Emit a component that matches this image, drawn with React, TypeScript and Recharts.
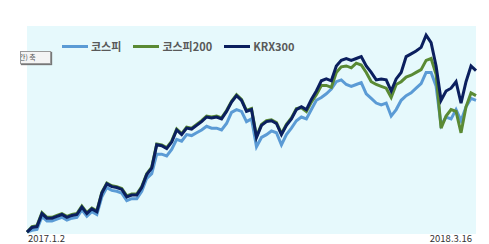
import { CartesianGrid, Legend, Line, LineChart, XAxis, YAxis } from 'recharts';

// relative level of each index (first day = 0)
const kospi = [
  0, 2, 3, 17, 12, 12, 14, 16, 13, 15, 16, 24, 17, 22, 19, 38, 48, 45, 44, 42, 34, 36, 36, 44, 58,
  63, 84, 84, 82, 89, 100, 98, 105, 104, 107, 110, 114, 112, 112, 110, 117, 129, 132, 130, 119, 122,
  92, 102, 105, 109, 107, 94, 105, 112, 120, 124, 122, 132, 142, 145, 149, 154, 162, 164, 159, 157,
  159, 161, 149, 144, 139, 137, 139, 125, 132, 142, 147, 150, 155, 160, 172, 172, 157, 115, 124, 122,
  132, 120, 135, 144, 142,
];
const kospi200 = [
  0, 6, 7, 21, 16, 16, 18, 20, 17, 19, 20, 28, 21, 26, 23, 43, 53, 50, 49, 47, 39, 41, 41, 49, 63,
  70, 95, 94, 91, 98, 111, 106, 113, 112, 116, 120, 125, 124, 125, 123, 131, 141, 148, 143, 131, 133,
  103, 116, 120, 121, 118, 106, 116, 123, 133, 134, 130, 140, 148, 158, 158, 156, 172, 178, 179, 177,
  182, 180, 172, 162, 159, 157, 155, 145, 159, 162, 167, 169, 172, 175, 185, 187, 170, 112, 125, 132,
  130, 107, 135, 150, 147,
];
const krx300 = [
  0, 5, 6, 20, 15, 15, 17, 19, 16, 18, 19, 27, 20, 25, 22, 42, 52, 49, 48, 46, 38, 40, 40, 48, 62,
  69, 94, 93, 90, 97, 110, 105, 112, 111, 115, 119, 124, 123, 124, 122, 130, 140, 147, 142, 130, 132,
  102, 115, 119, 120, 117, 105, 115, 122, 132, 135, 132, 143, 152, 163, 165, 163, 179, 185, 187, 185,
  187, 189, 179, 172, 164, 165, 164, 152, 165, 172, 189, 192, 195, 199, 212, 204, 179, 142, 152, 155,
  162, 139, 162, 179, 174,
];
const xLabels = ['2017.1.2', '2018.3.16'];

const seriesInfo = [
  { key: 'kospi', name: '코스피', color: '#5B9BD5' },
  { key: 'kospi200', name: '코스피200', color: '#5A8A34' },
  { key: 'krx300', name: 'KRX300', color: '#0B1F5E' },
];

const data = krx300.map((_, i) => ({
  i,
  kospi: kospi[i],
  kospi200: kospi200[i],
  krx300: krx300[i],
}));
const lastIndex = data.length - 1;

const fontFamily = '"Noto Sans CJK KR", "Noto Sans", sans-serif';

function DateTick(props: any) {
  const { x, y, payload } = props;
  const first = payload.value === 0;
  return (
    <text
      x={first ? x + 1 : x - 4}
      y={y}
      textAnchor={first ? 'start' : 'end'}
      fontSize={9.5}
      fill="#333"
      fontFamily={fontFamily}
    >
      {first ? xLabels[0] : xLabels[1]}
    </text>
  );
}

function LegendBox() {
  return (
    <div style={{ display: 'flex', alignItems: 'center', fontFamily, fontSize: 11, fontWeight: 700, color: '#595959' }}>
      {seriesInfo.map((s) => (
        <div key={s.key} style={{ display: 'flex', alignItems: 'center', marginRight: 12 }}>
          <span style={{ display: 'inline-block', width: 26, height: 3, background: s.color, marginRight: 3 }} />
          <span>{s.name}</span>
        </div>
      ))}
    </div>
  );
}

export default function App() {
  return (
    <div style={{ position: 'fixed', left: 0, top: 0, width: 489, height: 244, background: '#fff', overflow: 'hidden' }}>
      <LineChart width={489} height={244} data={data} margin={{ top: 10, right: 13, left: 27, bottom: 0 }}>
        <CartesianGrid horizontal={false} vertical={false} fill="#E6F9FC" />
        <XAxis
          dataKey="i"
          type="number"
          domain={[0, lastIndex]}
          ticks={[0, lastIndex]}
          axisLine={false}
          tickLine={false}
          height={10}
          tick={<DateTick />}
          interval={0}
        />
        <YAxis hide domain={[-2, 222]} />
        <Legend
          verticalAlign="top"
          content={() => <LegendBox />}
          wrapperStyle={{ top: 38, left: 62, width: 'auto' }}
        />
        {seriesInfo.map((s) => (
          <Line
            key={s.key}
            type="linear"
            dataKey={s.key}
            name={s.name}
            stroke={s.color}
            strokeWidth={3}
            dot={false}
            isAnimationActive={false}
          />
        ))}
      </LineChart>
      <div
        style={{
          position: 'absolute',
          left: 20,
          top: 51,
          width: 29,
          height: 11,
          background: '#f4f4f4',
          border: '1px solid #9a9a9a',
          boxShadow: '1px 1px 1px #777',
          fontFamily,
          fontSize: 7,
          lineHeight: '11px',
          color: '#555',
          overflow: 'hidden',
          whiteSpace: 'nowrap',
          textIndent: -2,
        }}
      >
        간) 축
      </div>
    </div>
  );
}
